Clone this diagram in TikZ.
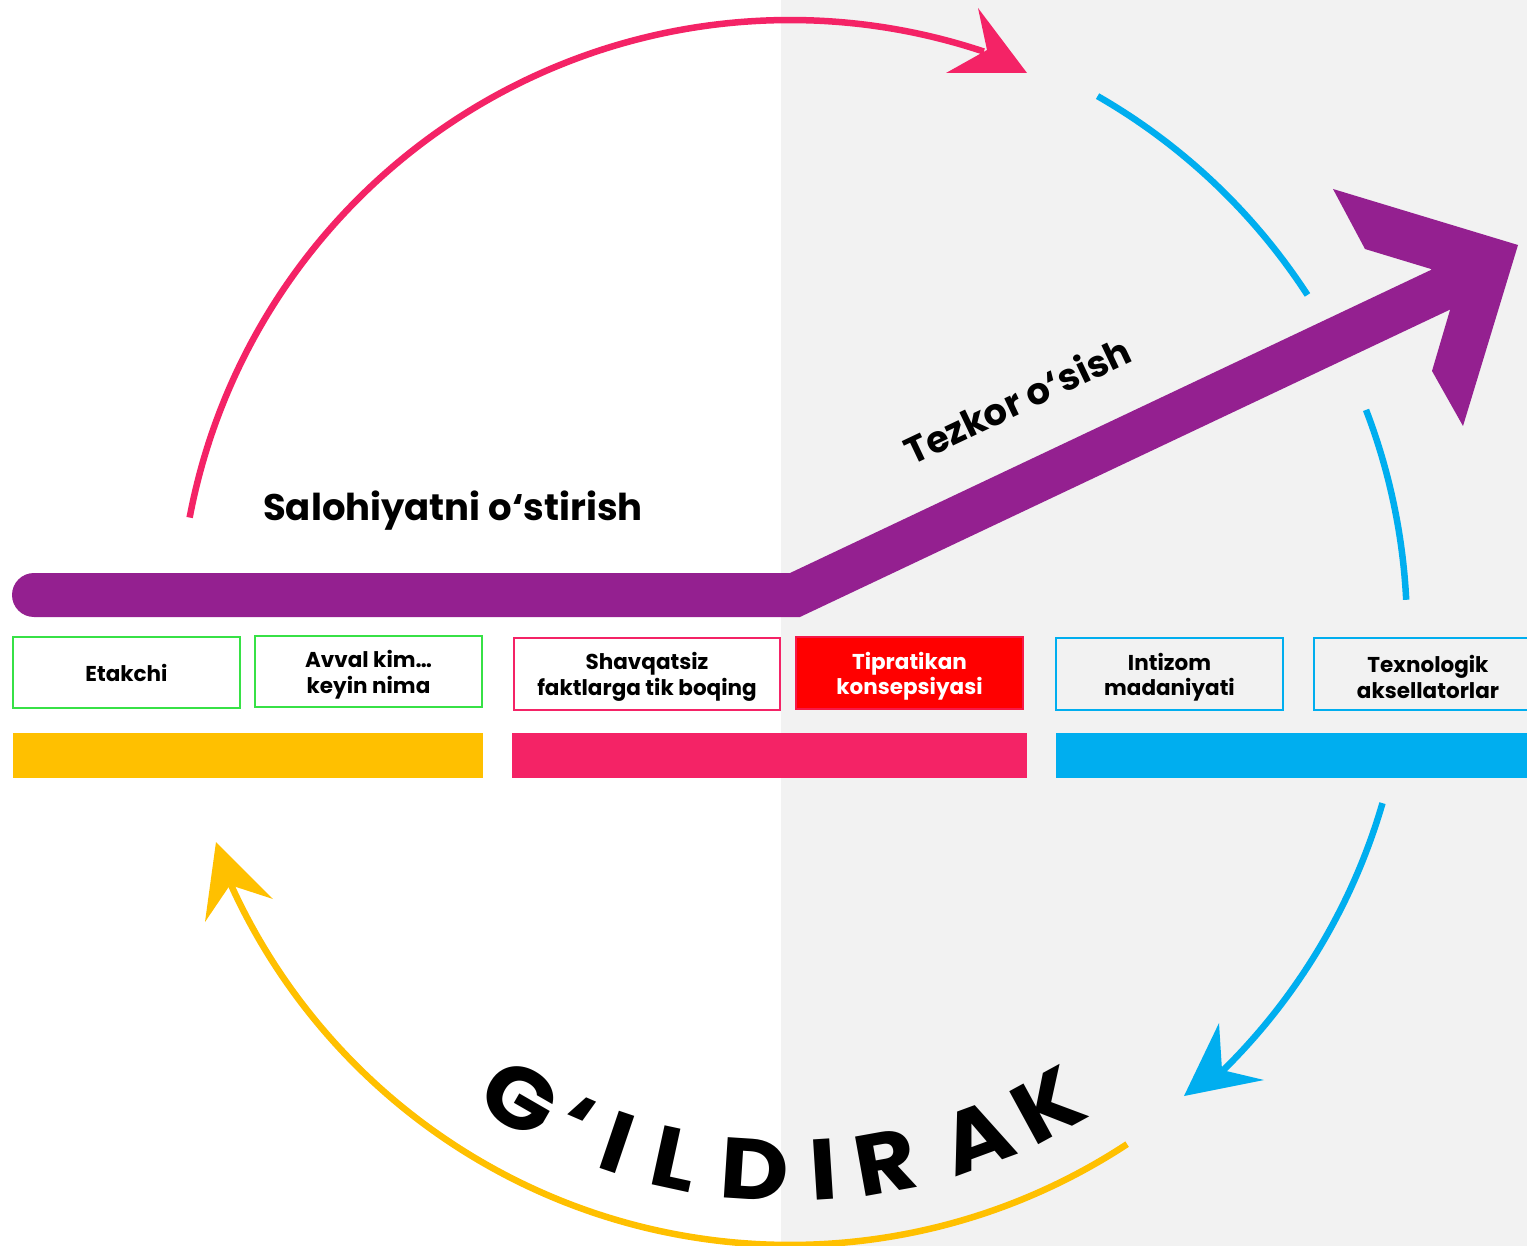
\documentclass[tikz,border=0pt]{standalone}
\usepackage{fontspec}
\setmainfont{Poppins}
\begin{document}
\begin{tikzpicture}[x=1pt,y=1pt]
\definecolor{cpink}{RGB}{244,35,102}
\definecolor{cblue}{RGB}{0,174,239}
\definecolor{cyellow}{RGB}{255,192,0}
\definecolor{cgreen}{RGB}{55,225,70}
\definecolor{cpurple}{RGB}{148,32,144}
\definecolor{cred}{RGB}{255,0,0}
\definecolor{bggray}{RGB}{242,242,242}
\tikzset{
  arcline/.style={line width=6.5},
  box/.style={draw, line width=2.5, minimum width=227, minimum height=71, align=center,
    font=\bfseries\fontsize{21.5}{25.5}\selectfont, inner sep=0},
  bigletter/.style={font=\bfseries\fontsize{86}{90}\selectfont, anchor=base, inner sep=0},
  title/.style={font=\bfseries\fontsize{37}{40}\selectfont, inner sep=0}
}
\newcommand{\twolines}[2]{\raisebox{-3pt}[\height][\depth]{\parbox{224pt}{\centering #1\\#2}}}
\useasboundingbox (0,0) rectangle (1527,-1246);
\clip (0,0) rectangle (1527,-1246);
\fill[white] (0,0) rectangle (781,-1246);
\fill[bggray] (781,0) rectangle (1527,-1246);
\coordinate (C) at (790,-631);
% circle arcs
\draw[arcline,cpink] ([shift={(169.3:611)}]C) arc[start angle=169.3,end angle=71.5,radius=611];
\fill[cpink] (1027,-73) -- (978,-8) -- (987,-50) -- (946,-73) -- cycle;
\draw[arcline,cblue] ([shift={(60.1:617)}]C) arc[start angle=60.1,end angle=33,radius=617];
\draw[arcline,cblue] ([shift={(21:617)}]C) arc[start angle=21,end angle=2.9,radius=617];
\draw[arcline,cblue] ([shift={(-16.2:617)}]C) arc[start angle=-16.2,end angle=-45.5,radius=617];
\fill[cblue] (1184,-1096) -- (1219,-1023) -- (1222,-1070) -- (1264,-1080) -- cycle;
\draw[arcline,cyellow] ([shift={(-56.7:614)}]C) arc[start angle=-56.7,end angle=-155.6,radius=614];
\fill[cyellow] (216,-842) -- (273,-899) -- (230,-885) -- (205,-922) -- cycle;
% purple growth arrow
\draw[cpurple, line width=44, line cap=round] (34,-595) -- (795,-595) -- (1440,-290);
\fill[cpurple] (1518,-245) -- (1333,-189) -- (1365,-249) -- (1431,-269) -- (1450,-310) -- (1432,-371) -- (1463,-426) -- cycle;
\node[title] (sal) at (453,-511) {Salohiyatni o‘stirish};
\node[title, rotate=25.3] (tez) at (1017,-400) {Tezkor o‘sish};
% boxes
\node[box, draw=cgreen] (b1) at (126.5,-672.5) {Etakchi};
\node[box, draw=cgreen] (b2) at (368.5,-671.5) {\twolines{Avval kim…}{keyin nima}};
\node[box, draw=cpink, minimum width=266, minimum height=72] (b3) at (647,-674) {\twolines{Shavqatsiz}{faktlarga tik boqing}};
\node[box, draw=cpink!70!red, fill=cred, text=white, minimum height=72] (b4) at (909.5,-673) {\twolines{Tipratikan}{konsepsiyasi}};
\node[box, draw=cblue, minimum height=72] (b5) at (1169.5,-674) {\twolines{Intizom}{madaniyati}};
\node[box, draw=cblue, minimum width=228, minimum height=72] (b6) at (1428,-674) {\twolines{Texnologik}{aksellatorlar}};
% bars
\fill[cyellow] (13,-733) rectangle (483,-778);
\fill[cpink] (512,-733) rectangle (1027,-778);
\fill[cblue] (1056,-733) rectangle (1527,-778);
% curved word
\foreach \a/\l [count=\i] in {-120/G, -113.5/‘, -108.7/I, -102.3/L, -93.7/D, -86.4/I, -79.8/R, -69.8/A, -61.4/K}
  \node[bigletter, rotate=\a+90, xscale=1.1] (g\i) at ([shift={(\a:570)}]C) {\l};
\end{tikzpicture}
\end{document}
